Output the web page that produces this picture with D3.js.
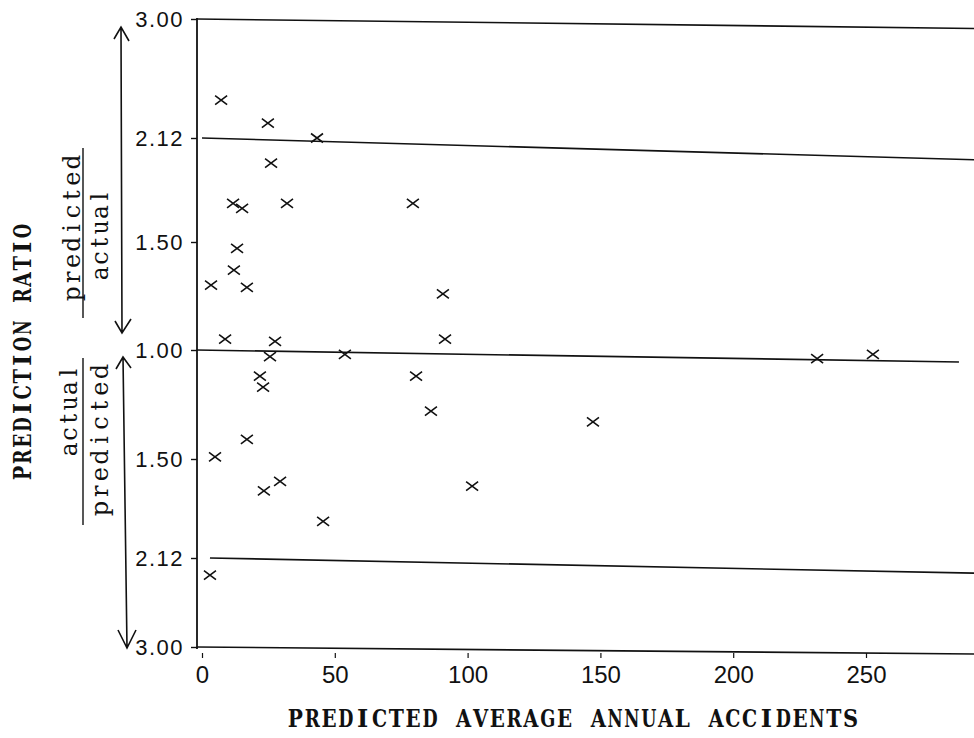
<!DOCTYPE html>
<html><head><meta charset="utf-8">
<script src="https://cdn.jsdelivr.net/npm/d3@7"></script>
<style>body{margin:0;background:#fff}svg{display:block}</style>
</head><body><svg id="c" width="974" height="738"></svg>
<script>
// ---- data: predicted average annual accidents (x) and prediction ratio ----
// points above the 1.00 line: ratio = predicted / actual
const overX     = [7.2, 24.8, 43.3, 26.0, 11.7, 15.1, 32.0, 79.4, 13.2, 12.0, 3.4, 16.9, 90.7, 8.7, 27.5, 91.5];
const overRatio = [2.40, 2.23, 2.12, 1.97, 1.73, 1.70, 1.73, 1.73, 1.47, 1.37, 1.30, 1.29, 1.26, 1.05, 1.04, 1.05];
// points below the 1.00 line: ratio = actual / predicted
const underX     = [25.6, 53.8, 21.8, 23.0, 80.6, 86.2, 147.2, 16.9, 4.9, 23.3, 29.4, 101.7, 45.6, 3.0, 231.6, 252.6];
const underRatio = [1.03, 1.02, 1.12, 1.17, 1.12, 1.28, 1.33, 1.41, 1.49, 1.70, 1.64, 1.67, 1.89, 2.29, 1.04, 1.02];

// axis ticks
const xTicks = [0, 50, 100, 150, 200, 250];
const yTickRatio = [3.00, 2.12, 1.50, 1.00, 1.50, 2.12, 3.00];
const yTickSide  = ["over", "over", "over", "over", "under", "under", "under"];

// hand-drawn reference lines (ratio at left and right ends)
const refStartX     = [-2, 0, -2, 3, -2];
const refEndX       = [291, 291, 285, 291, 291];
const refLeftRatio  = [3.00, 2.12, 1.00, 2.12, 3.00];
const refLeftSide   = ["over", "over", "over", "under", "under"];
const refRightRatio = [2.93, 1.99, 1.055, 2.27, 3.07];
const refRightSide  = ["over", "over", "under", "under", "under"];

// ---- signed transform: predicted/actual above, actual/predicted below ----
const signed = (r, side) => side === "over" ? r - 1 : -(r - 1);

const svg = d3.select("#c");
const x = d3.scaleLinear().domain([0, 250]).range([202, 866]);
const y = d3.scaleLinear()
  .domain([-2, -1.12, -0.5, 0, 0.5, 1.12, 2])
  .range([647, 558, 459, 350, 242, 138, 19]);

const ink = "#111";
const digitFont = "'Liberation Sans', Arial, sans-serif";
const typeFont = "'DejaVu Serif', serif";

// reference lines
const refs = refLeftRatio.map((r, i) => ({
  x1: refStartX[i], t1: signed(r, refLeftSide[i]),
  x2: refEndX[i], t2: signed(refRightRatio[i], refRightSide[i])
}));
svg.append("g").selectAll("line").data(refs).join("line")
  .attr("x1", d => x(d.x1)).attr("y1", d => y(d.t1))
  .attr("x2", d => x(d.x2)).attr("y2", d => y(d.t2))
  .attr("stroke", ink).attr("stroke-width", 1.6);

// y axis
const yTicks = yTickRatio.map((r, i) => signed(r, yTickSide[i]));
const yAxis = d3.axisLeft(y).tickValues(yTicks).tickSize(6).tickSizeOuter(0).tickPadding(7)
  .tickFormat(t => (Math.abs(t) + 1).toFixed(2));
const gy = svg.append("g").attr("transform", "translate(197,0)").call(yAxis);
gy.select(".domain").attr("stroke", ink).attr("stroke-width", 1.8).attr("d", "M0,18V649");
gy.selectAll(".tick line").attr("stroke", ink).attr("stroke-width", 1.4);
gy.selectAll(".tick text").attr("fill", ink)
  .style("font-family", digitFont).style("font-size", "22px")
  .style("letter-spacing", "1.5px");

// x axis
const xAxis = d3.axisBottom(x).tickValues(xTicks).tickSize(5).tickSizeOuter(0).tickFormat(d3.format("d"));
const gx = svg.append("g").attr("transform", "translate(0,653)").call(xAxis);
gx.select(".domain").remove();
gx.selectAll(".tick line").attr("stroke", ink).attr("stroke-width", 1.2);
gx.selectAll(".tick text").attr("fill", ink).attr("y", 30).attr("dy", 0)
  .style("font-family", digitFont).style("font-size", "24px");

// points
const pts = overX.map((v, i) => ({ x: v, t: signed(overRatio[i], "over") }))
  .concat(underX.map((v, i) => ({ x: v, t: signed(underRatio[i], "under") })));
svg.append("g").selectAll("path").data(pts).join("path")
  .attr("transform", d => `translate(${x(d.x)},${y(d.t)})`)
  .attr("d", "M-6,-4.5L6,4.5M-6,4.5L6,-4.5")
  .attr("fill", "none").attr("stroke", ink).attr("stroke-width", 1.6);

// typewriter-style text: fixed character pitch, each glyph centred in its cell
function mono(transform, str, len, size, weight) {
  const g = svg.append("g").attr("transform", transform);
  const pitch = len / str.length;
  const maxW = pitch * 0.9;
  str.split("").forEach((ch, i) => {
    if (ch === " ") return;
    const t = g.append("text").attr("x", -len / 2 + (i + 0.5) * pitch).attr("y", 0)
      .attr("text-anchor", "middle").attr("fill", ink)
      .style("font-family", typeFont).style("font-size", size + "px")
      .style("font-weight", weight).text(ch);
    const w = t.node().getComputedTextLength();
    if (w > maxW) t.attr("textLength", maxW).attr("lengthAdjust", "spacingAndGlyphs");
  });
}
mono("translate(573,727)", "PREDICTED AVERAGE ANNUAL ACCIDENTS", 572, 24, "bold");
mono("translate(31,352) rotate(-90)", "PREDICTION RATIO", 258, 24, "bold");

// fraction labels
mono("translate(80,228) rotate(-90)", "predicted", 148, 24, "normal");
mono("translate(108,235) rotate(-90)", "actual", 92, 24, "normal");
mono("translate(77,411) rotate(-90)", "actual", 92, 24, "normal");
mono("translate(108,440) rotate(-90)", "predicted", 154, 24, "normal");
svg.append("g").attr("stroke", ink).attr("stroke-width", 1.4).selectAll("line")
  .data([[148, 318], [358, 525]]).join("line")
  .attr("x1", 83).attr("x2", 83).attr("y1", d => d[0]).attr("y2", d => d[1]);

// arrows
const arrow = svg.append("g").attr("fill", "none").attr("stroke", ink).attr("stroke-width", 1.6);
arrow.append("path").attr("d", "M121,27L122,333M114,39L121,27L129,41M115,321L122,333L131,319");
arrow.append("path").attr("d", "M123,357L127,648M116,369L123,357L131,368M118,630L127,648L136,630");
</script></body></html>
